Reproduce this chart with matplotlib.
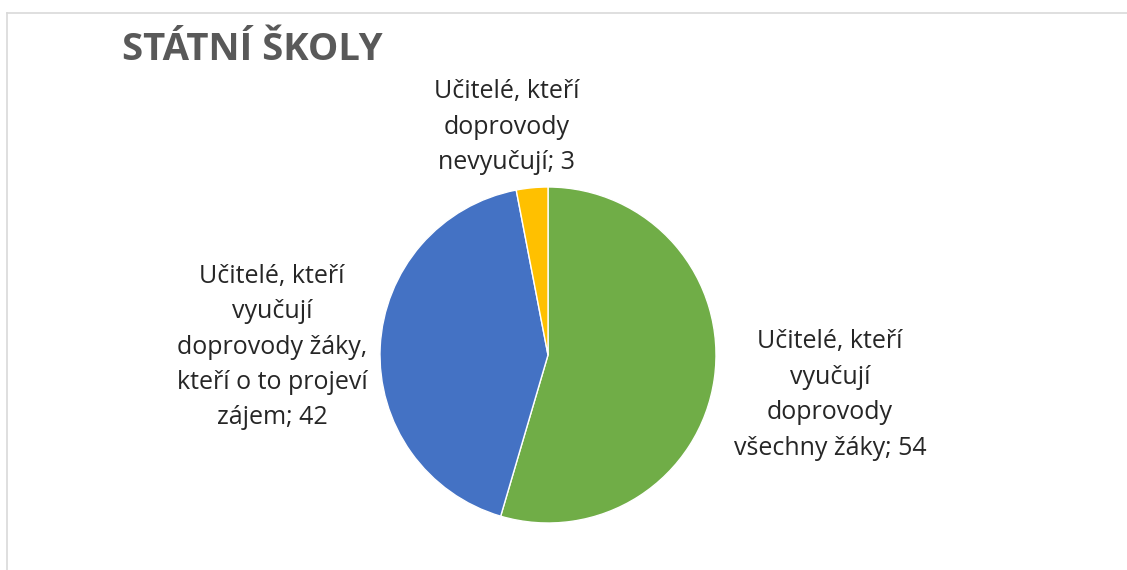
import matplotlib.pyplot as plt
from matplotlib.lines import Line2D

# data
labels = ['Učitelé, kteří\nvyučují\ndoprovody\nvšechny žáky; 54',
          'Učitelé, kteří\nvyučují\ndoprovody žáky,\nkteří o to projeví\nzájem; 42',
          'Učitelé, kteří\ndoprovody\nnevyučují; 3']
values = [54, 42, 3]
colors = ['#70AD47', '#4472C4', '#FFC000']
title = 'STÁTNÍ ŠKOLY'

W, H = 1127, 570
fig = plt.figure(figsize=(W/100, H/100), dpi=100)
plt.rcParams['font.family'] = ['Open Sans', 'DejaVu Sans']

# pie centre / radius in pixels
cx, cy, r = 548, 355, 168
ax = fig.add_axes([(cx-r)/W, (H-cy-r)/H, 2*r/W, 2*r/H])
wedges, _ = ax.pie(values, colors=colors, startangle=90, counterclock=False,
                   radius=1, wedgeprops=dict(edgecolor='white', linewidth=1))
ax.set_xlim(-1, 1)
ax.set_ylim(-1, 1)
ax.axis('off')

# label positions (pixels)
lab_pos = [(830, 395), (272, 347), (507, 127)]
for txt, (x, y) in zip(labels, lab_pos):
    fig.text(x/W, 1-y/H, txt, ha='center', va='center', fontsize=18,
             color='#262626', linespacing=1.55)

fig.text(122/W, 1-50/H, title, ha='left', va='center', fontsize=27.5,
         fontweight='bold', color='#595959')

# chart frame (top and left visible)
fig.add_artist(Line2D([7/W, 7/W], [0, 1-13/H], transform=fig.transFigure,
                      color='#d9d9d9', linewidth=1.2))
fig.add_artist(Line2D([7/W, 1], [1-13/H, 1-13/H], transform=fig.transFigure,
                      color='#d9d9d9', linewidth=1.2))

plt.savefig('out.png', dpi=100)
